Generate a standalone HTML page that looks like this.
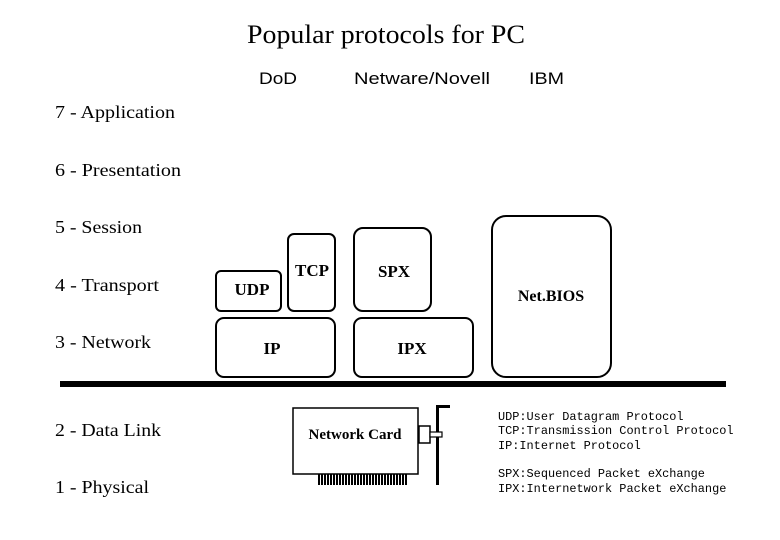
<!DOCTYPE html>
<html><head><meta charset="utf-8"><style>
body{margin:0;background:#fff;}
svg{display:block}
.s{font-family:"Liberation Serif",serif;font-size:18px;fill:#000}
.b{font-family:"Liberation Serif",serif;font-size:16px;font-weight:bold;fill:#000}
.a{font-family:"Liberation Sans",sans-serif;font-size:17px;fill:#000}
.m{font-family:"Liberation Mono",monospace;font-size:11.9px;fill:#000}
rect.bx{fill:#fff;stroke:#000;stroke-width:2}
</style></head><body>
<svg width="780" height="540" viewBox="0 0 780 540">
<defs><pattern id="t" width="3" height="11" patternUnits="userSpaceOnUse"><rect width="2" height="11" fill="#000"/></pattern></defs>
<text x="247" y="43" textLength="278" lengthAdjust="spacingAndGlyphs" style="font-family:'Liberation Serif',serif;font-size:26px">Popular protocols for PC</text>
<text class="a" x="259" y="84" textLength="38" lengthAdjust="spacingAndGlyphs">DoD</text>
<text class="a" x="354" y="84" textLength="136" lengthAdjust="spacingAndGlyphs">Netware/Novell</text>
<text class="a" x="529" y="84" textLength="35" lengthAdjust="spacingAndGlyphs">IBM</text>
<text class="s" x="55" y="118" textLength="120" lengthAdjust="spacingAndGlyphs">7 - Application</text>
<text class="s" x="55" y="176" textLength="126" lengthAdjust="spacingAndGlyphs">6 - Presentation</text>
<text class="s" x="55" y="233" textLength="87" lengthAdjust="spacingAndGlyphs">5 - Session</text>
<text class="s" x="55" y="291" textLength="104" lengthAdjust="spacingAndGlyphs">4 - Transport</text>
<text class="s" x="55" y="348" textLength="96" lengthAdjust="spacingAndGlyphs">3 - Network</text>
<text class="s" x="55" y="436" textLength="106" lengthAdjust="spacingAndGlyphs">2 - Data Link</text>
<text class="s" x="55" y="493" textLength="94" lengthAdjust="spacingAndGlyphs">1 - Physical</text>
<rect class="bx" x="216" y="271" width="65" height="40" rx="5"/>
<rect class="bx" x="288" y="234" width="47" height="77" rx="6"/>
<rect class="bx" x="354" y="228" width="77" height="83" rx="9"/>
<rect class="bx" x="216" y="318" width="119" height="59" rx="8"/>
<rect class="bx" x="354" y="318" width="119" height="59" rx="8"/>
<rect class="bx" x="492" y="216" width="119" height="161" rx="14"/>
<text class="b" x="252" y="295" text-anchor="middle" style="font-size:17px">UDP</text>
<text class="b" x="312" y="276" text-anchor="middle" style="font-size:17px">TCP</text>
<text class="b" x="394" y="277" text-anchor="middle" style="font-size:17px">SPX</text>
<text class="b" x="272" y="354" text-anchor="middle" style="font-size:17px">IP</text>
<text class="b" x="412" y="354" text-anchor="middle" style="font-size:17px">IPX</text>
<text class="b" x="551" y="301" text-anchor="middle">Net.BIOS</text>
<rect x="60" y="381" width="666" height="6" fill="#000"/>
<rect x="293" y="408" width="125" height="66" fill="#fff" stroke="#000" stroke-width="1.5"/>
<text class="b" x="355" y="439" text-anchor="middle" style="font-size:15px">Network Card</text>
<rect x="317" y="474" width="91" height="11" fill="url(#t)"/>
<rect x="436" y="405" width="3" height="80" fill="#000"/>
<rect x="436" y="405" width="14" height="3" fill="#000"/>
<rect x="419" y="426" width="11" height="17" fill="#fff" stroke="#000" stroke-width="1.5"/>
<rect x="430" y="432" width="12" height="5" fill="#fff" stroke="#000" stroke-width="1.2"/>
<text class="m" x="498" y="420">UDP:User Datagram Protocol</text>
<text class="m" x="498" y="434">TCP:Transmission Control Protocol</text>
<text class="m" x="498" y="449">IP:Internet Protocol</text>
<text class="m" x="498" y="477">SPX:Sequenced Packet eXchange</text>
<text class="m" x="498" y="492">IPX:Internetwork Packet eXchange</text>
</svg>
</body></html>
